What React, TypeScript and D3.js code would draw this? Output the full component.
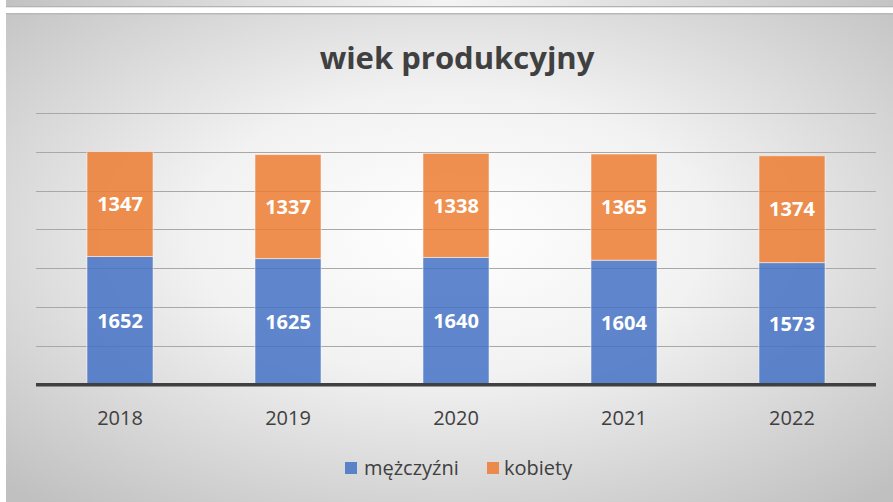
import React from "react";
import * as d3 from "d3";

const years = ["2018", "2019", "2020", "2021", "2022"];
const men = [1652, 1625, 1640, 1604, 1573];
const women = [1347, 1337, 1338, 1365, 1374];
const seriesNames = ["mężczyźni", "kobiety"];
const yTicks = [500, 1000, 1500, 2000, 2500, 3000, 3500];
const title = "wiek produkcyjny";

const W = 893;
const H = 502;
const FONT = "'Open Sans', Lato, sans-serif";
const BLUE = "#4472C4";
const ORANGE = "#ED7D31";

export default function App() {
  const x = d3.scaleBand<string>().domain(years).range([36, 876]).paddingInner(0.607).paddingOuter(0.3036);
  const y = d3.scaleLinear().domain([0, 3500]).range([385, 112.7]);
  const stackData = years.map((yr, i) => ({ year: yr, m: men[i], k: women[i] }));
  const stack = d3.stack<any>().keys(["m", "k"])(stackData);
  const colors = [BLUE, ORANGE];

  return (
    <svg width={W} height={H} style={{ position: "absolute", left: 0, top: 0, background: "#fff" }}>
      <defs>
        <radialGradient id="bg" cx="50%" cy="45%" r="72%" fx="50%" fy="45%">
          <stop offset="0%" stopColor="#ffffff" />
          <stop offset="40%" stopColor="#f2f2f2" />
          <stop offset="100%" stopColor="#c0c0c0" />
        </radialGradient>
        <linearGradient id="strip" x1="0" x2="1" y1="0" y2="0">
          <stop offset="0%" stopColor="#c2c2c2" />
          <stop offset="50%" stopColor="#f4f4f4" />
          <stop offset="100%" stopColor="#c4c4c4" />
        </linearGradient>
      </defs>
      <rect x={6} y={0} width={W - 6} height={7} fill="url(#strip)" />
      <rect x={6} y={6} width={W - 6} height={1.3} fill="#b4b4b4" />
      <rect x={6} y={13} width={W - 6} height={H - 13} fill="url(#bg)" />
      <rect x={6} y={13} width={W - 6} height={1.5} fill="#b8b8b8" />

      <text x={457} y={69} textAnchor="middle" fontFamily={FONT} fontWeight="bold" fontSize={31} fill="#404040">
        {title}
      </text>

      {yTicks.map((t) => (
        <line key={t} x1={36} x2={876} y1={Math.round(y(t)) + 0.5} y2={Math.round(y(t)) + 0.5} stroke="#a8a8a8" strokeWidth={1} />
      ))}

      {stack.map((s, si) =>
        s.map((d, i) => (
          <rect
            key={si + "-" + i}
            x={x(years[i])!}
            y={y(d[1])}
            width={x.bandwidth()}
            height={y(d[0]) - y(d[1])}
            fill={colors[si]}
            fillOpacity={0.85}
            stroke="#ffffff"
            strokeOpacity={0.5}
            strokeWidth={1}
          />
        ))
      )}

      {stack.map((s, si) =>
        s.map((d, i) => (
          <text
            key={"l" + si + "-" + i}
            x={x(years[i])! + x.bandwidth() / 2}
            y={(y(d[0]) + y(d[1])) / 2}
            dy="0.36em"
            textAnchor="middle"
            fontFamily={FONT}
            fontWeight="bold"
            fontSize={20}
            fill="#ffffff"
          >
            {si === 0 ? men[i] : women[i]}
          </text>
        ))
      )}

      <rect x={36} y={383} width={840} height={3.5} fill="#404040" />

      {years.map((yr) => (
        <text key={yr} x={x(yr)! + x.bandwidth() / 2} y={425} textAnchor="middle" fontFamily={FONT} fontSize={20} fill="#404040">
          {yr}
        </text>
      ))}

      <g>
        <rect x={345} y={462} width={12} height={12} fill={BLUE} fillOpacity={0.85} />
        <text x={364} y={475} fontFamily={FONT} fontSize={20} fill="#404040">{seriesNames[0]}</text>
        <rect x={487} y={462} width={12} height={12} fill={ORANGE} fillOpacity={0.85} />
        <text x={504} y={475} fontFamily={FONT} fontSize={20} fill="#404040">{seriesNames[1]}</text>
      </g>
    </svg>
  );
}
